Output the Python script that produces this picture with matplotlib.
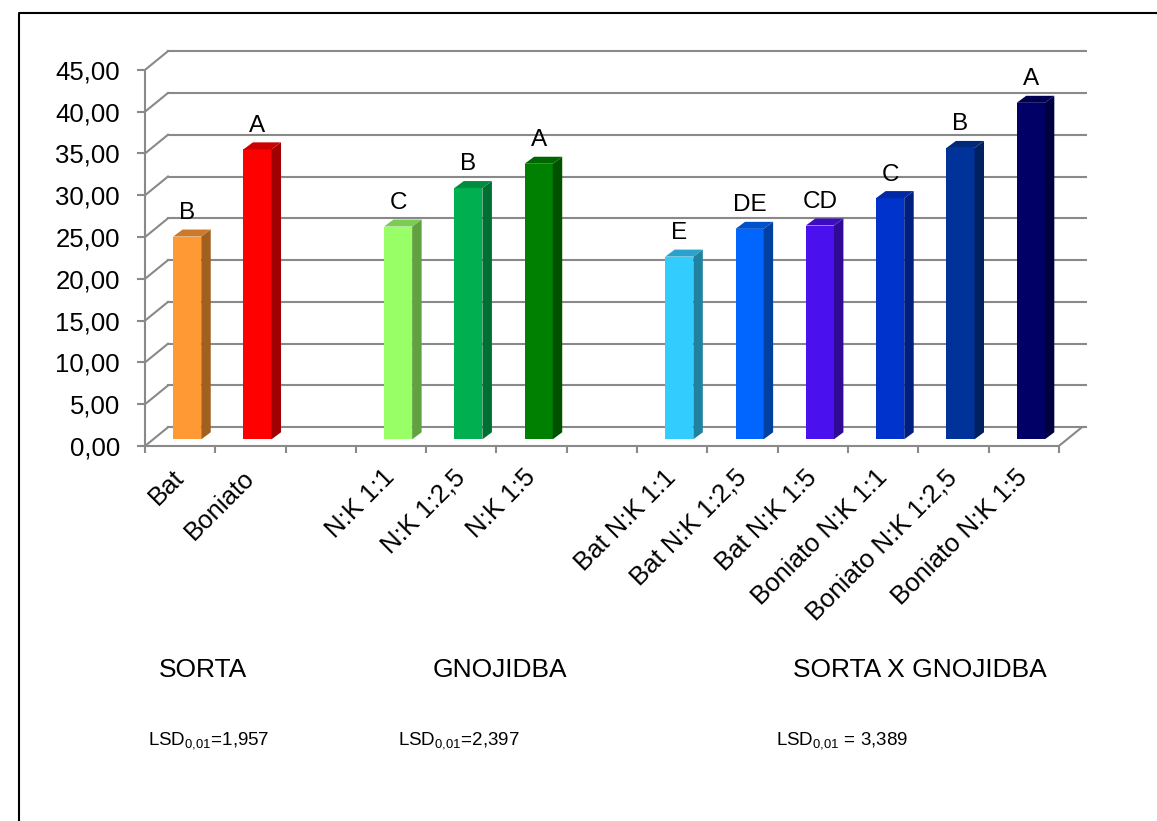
import numpy as np
import matplotlib
matplotlib.use('Agg')
import matplotlib.pyplot as plt
from matplotlib.patches import Polygon
from matplotlib.lines import Line2D

plt.rcParams['font.family'] = ['Liberation Sans', 'DejaVu Sans']
plt.rcParams['mathtext.fontset'] = 'custom'
plt.rcParams['mathtext.rm'] = 'Liberation Sans'

# data (blank slots separate the three groups)
categories = ['Bat', 'Boniato', '',
              'N:K 1:1', 'N:K 1:2,5', 'N:K 1:5', '',
              'Bat N:K 1:1', 'Bat N:K 1:2,5', 'Bat N:K 1:5',
              'Boniato N:K 1:1', 'Boniato N:K 1:2,5', 'Boniato N:K 1:5']
values = [24.26, 34.69, None,
          25.46, 30.06, 32.97, None,
          21.86, 25.18, 25.58, 28.86, 34.86, 40.26]
letters = ['B', 'A', '',
           'C', 'B', 'A', '',
           'E', 'DE', 'CD', 'C', 'B', 'A']
front_colors = ['#FF9933', '#FF0000', None,
                '#99FF66', '#00B050', '#008000', None,
                '#33CCFF', '#0066FF', '#4B10EE', '#0033CC', '#003399', '#000066']
yticks = np.arange(0, 46, 5)
group_titles = ['SORTA', 'GNOJIDBA', 'SORTA X GNOJIDBA']
lsd_texts = [r'LSD$_{0{,}01}$=1,957', r'LSD$_{0{,}01}$=2,397',
             r'LSD$_{0{,}01}$ = 3,389']

# pseudo 3d geometry (data units: 1 per category slot, y in value units)
WX, WY = 0.327, 2.24     # back wall offset
BX, BY = 0.10, 0.80      # bar plane offset
DX, DY = 0.135, 0.84     # bar depth
BW = 0.40
grid_col = '#898989'


def shade(c, f):
    r, g, b = matplotlib.colors.to_rgb(c)
    return (r * f, g * f, b * f)


fig = plt.figure(figsize=(11.57, 8.21), dpi=100)
ax = fig.add_axes([145 / 1157, (821 - 446.0) / 821, 942 / 1157, 397 / 821])
n = len(categories)
ax.set_xlim(0, 13.4)
ax.set_ylim(0, 47.5)

for s in ['top', 'right']:
    ax.spines[s].set_visible(False)
ax.spines['left'].set_bounds(0, 45)
ax.spines['bottom'].set_bounds(0, n)
for s in ['left', 'bottom']:
    ax.spines[s].set_color(grid_col)
    ax.spines[s].set_linewidth(1.5)

# back wall grid + left wall diagonals
for v in yticks:
    ax.plot([WX, 13.4], [v + WY, v + WY], color=grid_col, lw=1.5, zorder=1)
    ax.plot([0, WX], [v, v + WY], color=grid_col, lw=1.5, zorder=1)
ax.plot([n, n + WX], [0, WY], color=grid_col, lw=1.5, zorder=1)

ax.set_yticks(yticks)
ax.yaxis.set_major_formatter(matplotlib.ticker.FuncFormatter(lambda v, p: ('%.2f' % v).replace('.', ',')))
ax.tick_params(axis='y', length=6, width=1.5, color=grid_col, pad=12, labelsize=18.5)

ax.set_xticks(np.arange(n + 1), minor=True)
ax.set_xticks(np.arange(n) + 0.5)
ax.set_xticklabels(categories, rotation=45, ha='right', va='center',
                   rotation_mode='anchor', fontsize=18.5)
ax.tick_params(axis='x', which='major', length=0, pad=20)
ax.tick_params(axis='x', which='minor', length=5, width=1.5, color=grid_col)

# bars
for i, (v, c, lab) in enumerate(zip(values, front_colors, letters)):
    if v is None:
        continue
    x0 = i + 0.5 + BX - BW / 2
    ax.bar(x0 + BW / 2, v, width=BW, bottom=BY, color=c, zorder=3, linewidth=0)
    top = BY + v
    side = Polygon([(x0 + BW, BY), (x0 + BW + DX, BY + DY), (x0 + BW + DX, top + DY), (x0 + BW, top)],
                   closed=True, facecolor=shade(c, 0.63), edgecolor='none', zorder=3)
    lid = Polygon([(x0, top), (x0 + BW, top), (x0 + BW + DX, top + DY), (x0 + DX, top + DY)],
                  closed=True, facecolor=shade(c, 0.8), edgecolor='none', zorder=3)
    ax.add_patch(side)
    ax.add_patch(lid)
    ax.annotate(lab, (x0 + BW / 2, top + DY), xytext=(0, 4), textcoords='offset points',
                ha='center', va='bottom', fontsize=17.5, annotation_clip=False)

# group titles and LSD values
for t, xc in zip(group_titles, [203, 500, 920]):
    fig.text(xc / 1157, (821 - 670) / 821, t, ha='center', va='center', fontsize=19)
for t, xl in zip(lsd_texts, [148, 398, 776]):
    fig.text(xl / 1157, (821 - 741) / 821, t, ha='left', va='center', fontsize=13.5)

# outer frame
fig.add_artist(Line2D([19 / 1157, 19 / 1157, 1.0], [0, (821 - 13) / 821, (821 - 13) / 821],
                      color='black', lw=1.5, transform=fig.transFigure))

fig.savefig('out.png', dpi=100)
